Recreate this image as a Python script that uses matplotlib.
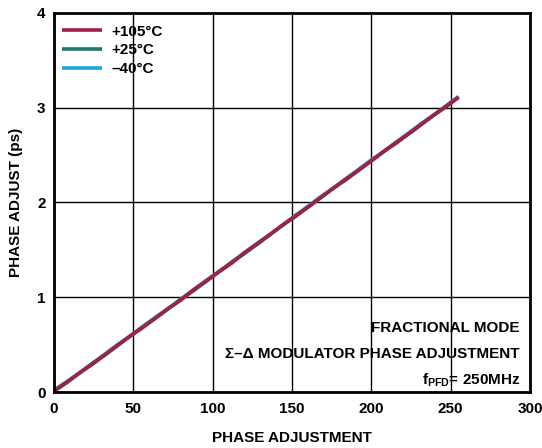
import matplotlib
matplotlib.use('Agg')
import matplotlib.pyplot as plt

# phase adjustment code vs measured phase adjust (ps)
codes = [0, 8, 16, 24, 32, 40, 48, 56, 64, 72, 80, 88, 96, 104, 112, 120, 128,
         136, 144, 152, 160, 168, 176, 184, 192, 200, 208, 216, 224, 232, 240, 248, 255]
hot = [0.01, 0.10, 0.20, 0.29, 0.39, 0.49, 0.59, 0.68, 0.78, 0.88, 0.97, 1.08, 1.17,
       1.27, 1.36, 1.47, 1.56, 1.66, 1.76, 1.85, 1.95, 2.05, 2.15, 2.24, 2.34, 2.44,
       2.54, 2.63, 2.73, 2.83, 2.93, 3.02, 3.11]
room = [0.01, 0.10, 0.20, 0.30, 0.39, 0.49, 0.59, 0.69, 0.78, 0.88, 0.98, 1.07, 1.17,
        1.27, 1.37, 1.46, 1.56, 1.66, 1.76, 1.86, 1.95, 2.05, 2.15, 2.25, 2.34, 2.44,
        2.54, 2.64, 2.73, 2.83, 2.93, 3.03, 3.11]
cold = [0.02, 0.11, 0.20, 0.30, 0.40, 0.50, 0.59, 0.69, 0.79, 0.88, 0.98, 1.08, 1.18,
        1.27, 1.37, 1.47, 1.57, 1.66, 1.76, 1.86, 1.96, 2.06, 2.15, 2.25, 2.35, 2.45,
        2.54, 2.64, 2.74, 2.84, 2.93, 3.03, 3.12]
labels = ['+105°C', '+25°C', '–40°C']
colors = ['#A0204A', '#1B7A6E', '#1BA8DC']

plt.rcParams['font.family'] = ['Liberation Sans', 'DejaVu Sans']
plt.rcParams['font.weight'] = 'bold'
plt.rcParams['mathtext.default'] = 'regular'

fig = plt.figure(figsize=(5.42, 4.48), dpi=100)
ax = fig.add_axes([0.0996, 0.125, 0.8782, 0.846])

# draw cold first so hot sits on top
for ys, lab, c in reversed(list(zip([hot, room, cold], labels, colors))):
    ax.plot(codes, ys, color=c, lw=2.6, label=lab, solid_capstyle='butt')

ax.set_xlim(0, 300)
ax.set_ylim(0, 4)
ax.set_xticks(range(0, 301, 50))
ax.set_yticks(range(0, 5))
ax.grid(True, color='black', lw=1.0)
ax.tick_params(length=0, labelsize=11)
ax.tick_params(axis='x', pad=7)
ax.tick_params(axis='y', pad=6)
for lbl in ax.get_xticklabels() + ax.get_yticklabels():
    lbl.set_fontweight('bold')
for s in ax.spines.values():
    s.set_linewidth(2.0)

ax.set_xlabel('PHASE ADJUSTMENT', fontsize=11, fontweight='bold', labelpad=11)
ax.set_ylabel('PHASE ADJUST (ps)', fontsize=11, fontweight='bold', labelpad=10)

h, l = ax.get_legend_handles_labels()
leg = ax.legend(h[::-1], l[::-1], loc='upper left', bbox_to_anchor=(0.004, 0.985),
                frameon=False, fontsize=11, handlelength=2.6, handletextpad=0.65,
                labelspacing=0.3, borderaxespad=0)
for t in leg.get_texts():
    t.set_fontweight('bold')

ax.text(0.979, 0.17, 'FRACTIONAL MODE', transform=ax.transAxes, ha='right',
        va='center', fontsize=11, fontweight='bold')
ax.text(0.979, 0.10, 'Σ–Δ MODULATOR PHASE ADJUSTMENT', transform=ax.transAxes,
        ha='right', va='center', fontsize=11, fontweight='bold')
ax.text(0.979, 0.03, r'f$_{PFD}$= 250MHz', transform=ax.transAxes,
        ha='right', va='center', fontsize=11, fontweight='bold')

fig.savefig('out.png', dpi=100)
